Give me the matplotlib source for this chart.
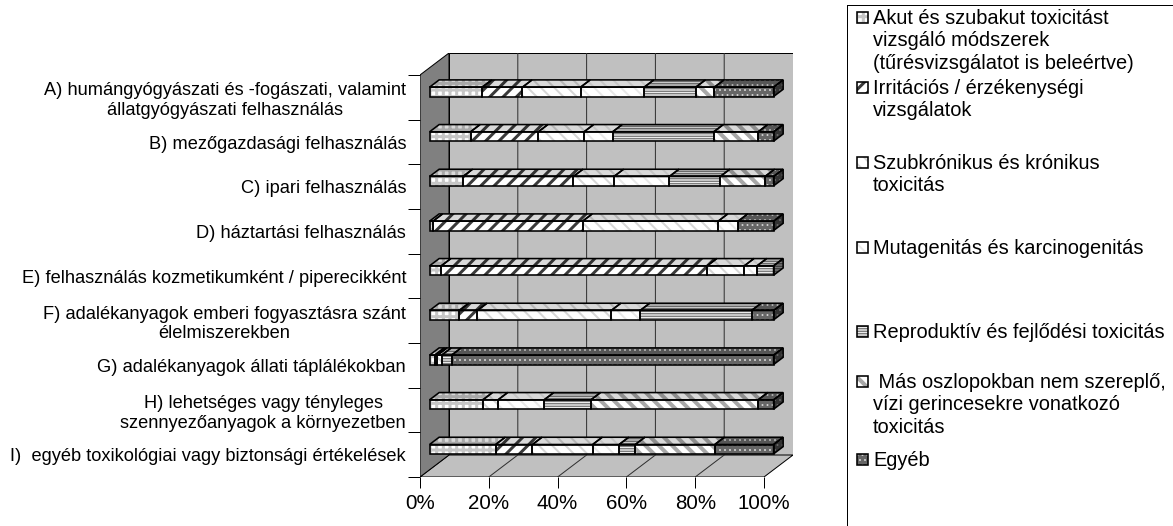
import numpy as np
import matplotlib.pyplot as plt
from matplotlib.patches import Rectangle

plt.rcParams['font.family'] = ['Liberation Sans', 'DejaVu Sans']

DPI = 120
W, H = 1173, 526


def px(v):
    # pixel size -> points
    return v * 72 / DPI


categories = [
    "A) humángyógyászati és -fogászati, valamint\nállatgyógyászati felhasználás",
    "B) mezőgazdasági felhasználás",
    "C) ipari felhasználás",
    "D) háztartási felhasználás",
    "E) felhasználás kozmetikumként / piperecikként",
    "F) adalékanyagok emberi fogyasztásra szánt\nélelmiszerekben",
    "G) adalékanyagok állati táplálékokban",
    "H) lehetséges vagy tényleges\nszennyezőanyagok a környezetben",
    "I)  egyéb toxikológiai vagy biztonsági értékelések",
]

series_names = [
    "Akut és szubakut toxicitást\nvizsgáló módszerek\n(tűrésvizsgálatot is beleértve)",
    "Irritációs / érzékenységi\nvizsgálatok",
    "Szubkrónikus és krónikus\ntoxicitás",
    "Mutagenitás és karcinogenitás",
    "Reproduktív és fejlődési toxicitás",
    " Más oszlopokban nem szereplő,\nvízi gerincesekre vonatkozó\ntoxicitás",
    "Egyéb",
]

# percentages per category (A..I)
akut = [15.3, 11.9, 9.7, 1.0, 3.4, 8.6, 1.5, 15.5, 19.2]
irrit = [11.7, 19.7, 32.1, 43.5, 77.3, 5.3, 0.8, 0.0, 10.7]
szubkr = [16.9, 13.3, 11.8, 39.4, 10.8, 38.9, 1.2, 4.4, 17.5]
mutagen = [18.5, 8.3, 16.1, 5.8, 3.7, 8.4, 0.0, 13.4, 7.7]
reprod = [15.0, 29.4, 14.8, 0.0, 4.8, 32.4, 2.9, 13.6, 4.7]
mas = [5.4, 12.9, 13.0, 0.0, 0.0, 0.0, 0.0, 48.6, 23.1]
egyeb = [17.2, 4.5, 2.5, 10.3, 0.0, 6.4, 93.6, 4.5, 17.1]
values = [akut, irrit, szubkr, mutagen, reprod, mas, egyeb]

tick_pos = [0, 20, 40, 60, 80, 100]
tick_labels = ["0%", "20%", "40%", "60%", "80%", "100%"]

# facecolor, hatch, hatch colour, hatch linewidth (px)
styles = [
    ('white', '+++', '#c6c6c6', 3.0),
    ('white', '///', '#3a3a3a', 3.0),
    ('white', '\\\\\\', '#d6d6d6', 2.0),
    ('white', '\\\\\\', '#e8e8e8', 2.0),
    ('#ececec', '-' * 8, '#5a5a5a', 1.0),
    ('white', '\\\\\\', '#a8a8a8', 4.0),
    ('#666666', '....', '#cfcfcf', 1.0),
]

# pseudo 3d: depth shift in data units
DX = 29 / 3.44
DY = 22 / 44.67
Z0, Z1 = 0.33, 0.66
BH = 0.21
YOFF = 0.04


def P(x, y, z):
    return x + z * DX, y - z * DY


def face(a, pts, k, shade=0.0, z=3):
    fc, hatch, hc, hlw = styles[k]
    xs, ys = zip(*pts)
    with plt.rc_context({'hatch.linewidth': px(hlw)}):
        p = a.fill(xs, ys, facecolor=fc, edgecolor=hc, hatch=hatch, linewidth=0, zorder=z)[0]
    if hasattr(p, 'set_hatch_linewidth'):
        p.set_hatch_linewidth(px(hlw))
    if shade:
        a.fill(xs, ys, facecolor='black', alpha=shade, linewidth=0, zorder=z + 0.1)
    a.fill(xs, ys, facecolor='none', edgecolor='black', linewidth=px(1.6), zorder=z + 0.2)


fig = plt.figure(figsize=((W + 0.01) / DPI, (H + 0.01) / DPI), dpi=DPI)
ax = fig.add_axes([420 / W, (H - 477) / H, 373 / W, 424 / H])
ax.set_xlim(0, 100 + DX)
ax.set_ylim(9, -DY)
ax.patch.set_visible(False)
for s in ax.spines.values():
    s.set_visible(False)

n = len(categories)

# walls and floor
def poly(pts, **kw):
    xs, ys = zip(*pts)
    return ax.fill(xs, ys, **kw)[0]

poly([P(0, 0, 1), P(100, 0, 1), P(100, n, 1), P(0, n, 1)],
     facecolor='#c0c0c0', edgecolor='black', linewidth=px(1), zorder=1)
poly([P(0, n, 0), P(100, n, 0), P(100, n, 1), P(0, n, 1)],
     facecolor='#c0c0c0', edgecolor='black', linewidth=px(1), zorder=1)
poly([P(0, 0, 0), P(0, 0, 1), P(0, n, 1), P(0, n, 0)],
     facecolor='#808080', edgecolor='black', linewidth=px(1), zorder=1)
for t in tick_pos[1:-1]:
    pts = [P(t, 0, 1), P(t, n, 1), P(t, n, 0)]
    xs, ys = zip(*pts)
    ax.plot(xs, ys, color='#303030', linewidth=px(1), zorder=2)

# stacked bars
for i in range(n):
    yc = i + 0.5 + YOFF
    yt, yb = yc - BH / 2, yc + BH / 2
    left = 0.0
    last = 0
    for k in range(len(values)):
        w = values[k][i]
        if w <= 0:
            continue
        x0, x1 = left, left + w
        face(ax, [P(x0, yt, Z0), P(x1, yt, Z0), P(x1, yb, Z0), P(x0, yb, Z0)], k)
        face(ax, [P(x0, yt, Z0), P(x1, yt, Z0), P(x1, yt, Z1), P(x0, yt, Z1)], k, 0.15)
        left = x1
        last = k
    face(ax, [P(left, yt, Z0), P(left, yb, Z0), P(left, yb, Z1), P(left, yt, Z1)], last, 0.5)

ax.set_xticks(tick_pos)
ax.set_xticklabels(tick_labels, fontsize=px(20.5))
ax.tick_params(axis='x', direction='out', length=px(11), width=px(1), pad=px(6))

ax.set_yticks(range(n + 1))
ax.set_yticklabels([])
ax.set_yticks(np.arange(n) + 0.5, minor=True)
ax.set_yticklabels(categories, minor=True, fontsize=px(18.3))
ax.tick_params(axis='y', which='major', direction='out', length=px(12), width=px(1))
ax.tick_params(axis='y', which='minor', length=0, pad=px(14))
for lbl in ax.get_yticklabels(minor=True):
    lbl.set_multialignment('center')

# legend (pixel layout)
lax = fig.add_axes([0, 0, 1, 1])
lax.set_xlim(0, W)
lax.set_ylim(H, 0)
lax.axis('off')
lax.add_patch(Rectangle((847, 5), 400, 600, fill=False, edgecolor='black', linewidth=px(1)))
legend_y = [18, 88, 163, 248, 332, 382, 460]
for k, name in enumerate(series_names):
    y0 = legend_y[k]
    face(lax, [(857, y0 - 5.5), (868, y0 - 5.5), (868, y0 + 5.5), (857, y0 + 5.5)], k, z=3)
    for j, line in enumerate(name.split('\n')):
        lax.text(873, y0 + j * 22.5, line, fontsize=px(20), va='center', ha='left')

fig.savefig('out.png', dpi=DPI)
